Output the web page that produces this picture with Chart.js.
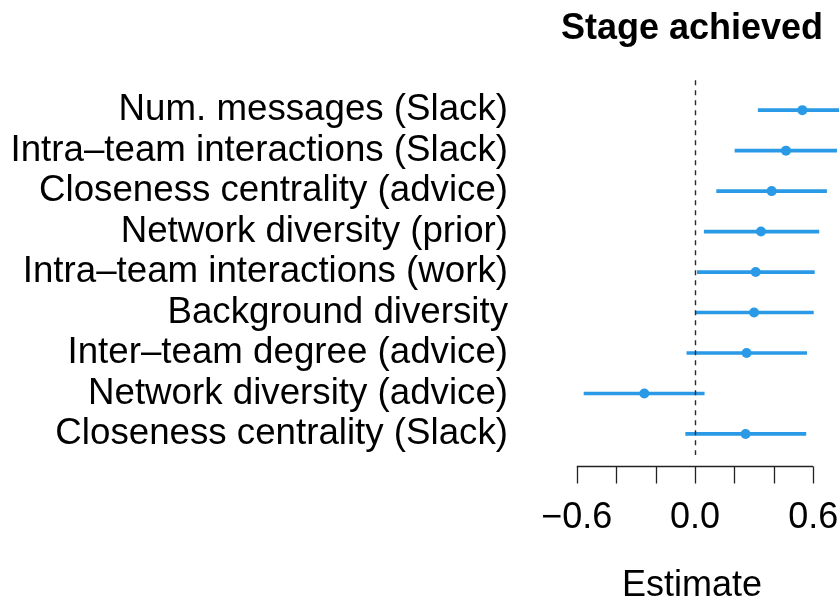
<!DOCTYPE html>
<html>
<head>
<meta charset="utf-8">
<script src="https://cdn.jsdelivr.net/npm/chart.js@4/dist/chart.umd.min.js"></script>
<style>
  html, body { margin: 0; padding: 0; background: #ffffff; }
  #wrap { width: 839px; height: 601px; position: relative; overflow: hidden; }
</style>
</head>
<body>
<div id="wrap"><canvas id="c" width="839" height="601"></canvas></div>
<script>
// ---- data ----
const categories = [
  "Num. messages (Slack)",
  "Intra\u2013team interactions (Slack)",
  "Closeness centrality (advice)",
  "Network diversity (prior)",
  "Intra\u2013team interactions (work)",
  "Background diversity",
  "Inter\u2013team degree (advice)",
  "Network diversity (advice)",
  "Closeness centrality (Slack)"
];
const estimates = [0.545, 0.462, 0.389, 0.335, 0.308, 0.300, 0.262, -0.257, 0.257];
const lowerCI   = [0.321, 0.203, 0.110, 0.047, 0.012, 0.005, -0.041, -0.563, -0.047];
const upperCI   = [0.770, 0.719, 0.668, 0.629, 0.606, 0.601, 0.567, 0.047, 0.563];
const xTickValues = [-0.6, -0.4, -0.2, 0, 0.2, 0.4, 0.6];
const xTickLabels = {"-0.6": "\u22120.6", "0": "0.0", "0.6": "0.6"};
const chartTitle = "Stage achieved";
const xTitle = "Estimate";

// ---- chart ----
const FONT = "Arial, 'Liberation Sans', Helvetica, sans-serif";
const BLUE = '#2A9AE6';

const rowIdx = categories.map((_, i) => i + 1);

const refAndAxis = {
  id: 'refAndAxis',
  afterDatasetsDraw(chart) {
    const {ctx, chartArea, scales: {x}} = chart;
    const x0 = Math.round(x.getPixelForValue(0)) + 0.5;
    ctx.save();
    ctx.strokeStyle = '#2a2a2a';
    ctx.lineWidth = 1.4;
    ctx.setLineDash([5, 5]);
    ctx.beginPath();
    ctx.moveTo(x0, chartArea.top);
    ctx.lineTo(x0, chartArea.bottom);
    ctx.stroke();
    ctx.restore();
  },
  afterDraw(chart) {
    const {ctx, chartArea, scales: {x}} = chart;
    const yAxis = chartArea.bottom + 11.5;
    const tickEnd = yAxis + 17;
    ctx.save();
    ctx.strokeStyle = '#222222';
    ctx.lineWidth = 1.3;
    ctx.beginPath();
    ctx.moveTo(x.getPixelForValue(xTickValues[0]), yAxis);
    ctx.lineTo(x.getPixelForValue(xTickValues[xTickValues.length - 1]), yAxis);
    xTickValues.forEach(v => {
      const px = Math.round(x.getPixelForValue(v)) + 0.5;
      ctx.moveTo(px, yAxis);
      ctx.lineTo(px, tickEnd);
    });
    ctx.stroke();
    ctx.restore();
  }
};

new Chart(document.getElementById('c'), {
  data: {
    datasets: [
      {
        type: 'bar',
        indexAxis: 'y',
        data: rowIdx.map((r, i) => ({y: r, x: [lowerCI[i], upperCI[i]]})),
        backgroundColor: BLUE,
        borderWidth: 0,
        borderSkipped: false,
        barThickness: 3,
        xAxisID: 'x',
        yAxisID: 'y'
      },
      {
        type: 'scatter',
        data: rowIdx.map((r, i) => ({x: estimates[i], y: r})),
        backgroundColor: BLUE,
        borderColor: BLUE,
        pointRadius: 5,
        pointBorderWidth: 0,
        xAxisID: 'x',
        yAxisID: 'y'
      }
    ]
  },
  options: {
    responsive: false,
    animation: false,
    layout: { padding: 0, autoPadding: false },
    plugins: {
      legend: { display: false },
      tooltip: { enabled: false },
      title: {
        display: true,
        text: chartTitle,
        fullSize: false,
        color: '#000000',
        font: { family: FONT, size: 36, weight: 'bold', lineHeight: 1.2 },
        padding: { top: 7, bottom: 30 }
      }
    },
    scales: {
      x: {
        type: 'linear',
        position: 'bottom',
        offset: false,
        min: -0.761,
        max: 0.731,
        grid: { display: false, drawTicks: true, tickLength: 41, offset: false },
        border: { display: false },
        afterBuildTicks(scale) { scale.ticks = xTickValues.map(v => ({value: v})); },
        afterFit(scale) { scale.height = 146; scale.paddingLeft = 0; scale.paddingRight = 0; },
        ticks: {
          autoSkip: false,
          maxRotation: 0,
          padding: 0,
          color: '#000000',
          font: { family: FONT, size: 36 },
          callback(v) {
            const key = String(Math.round(v * 10) / 10);
            return xTickLabels[key] !== undefined ? xTickLabels[key] : '';
          }
        },
        title: {
          display: true,
          text: xTitle,
          color: '#000000',
          font: { family: FONT, size: 36, lineHeight: 1 },
          padding: { top: 0, bottom: -3 }
        }
      },
      y: {
        type: 'linear',
        position: 'left',
        offset: false,
        reverse: true,
        min: 0.26,
        max: 9.52,
        grid: { display: false, drawTicks: true, tickLength: 37, offset: false },
        border: { display: false },
        afterBuildTicks(scale) { scale.ticks = rowIdx.map(v => ({value: v})); },
        afterFit(scale) { scale.width = 545; scale.paddingTop = 0; scale.paddingBottom = 0; },
        ticks: {
          autoSkip: false,
          padding: 0,
          color: '#000000',
          font: { family: FONT, size: 36.7 },
          callback(v) { return categories[Math.round(v) - 1] || ''; }
        }
      }
    }
  },
  plugins: [refAndAxis]
});
</script>
</body>
</html>
